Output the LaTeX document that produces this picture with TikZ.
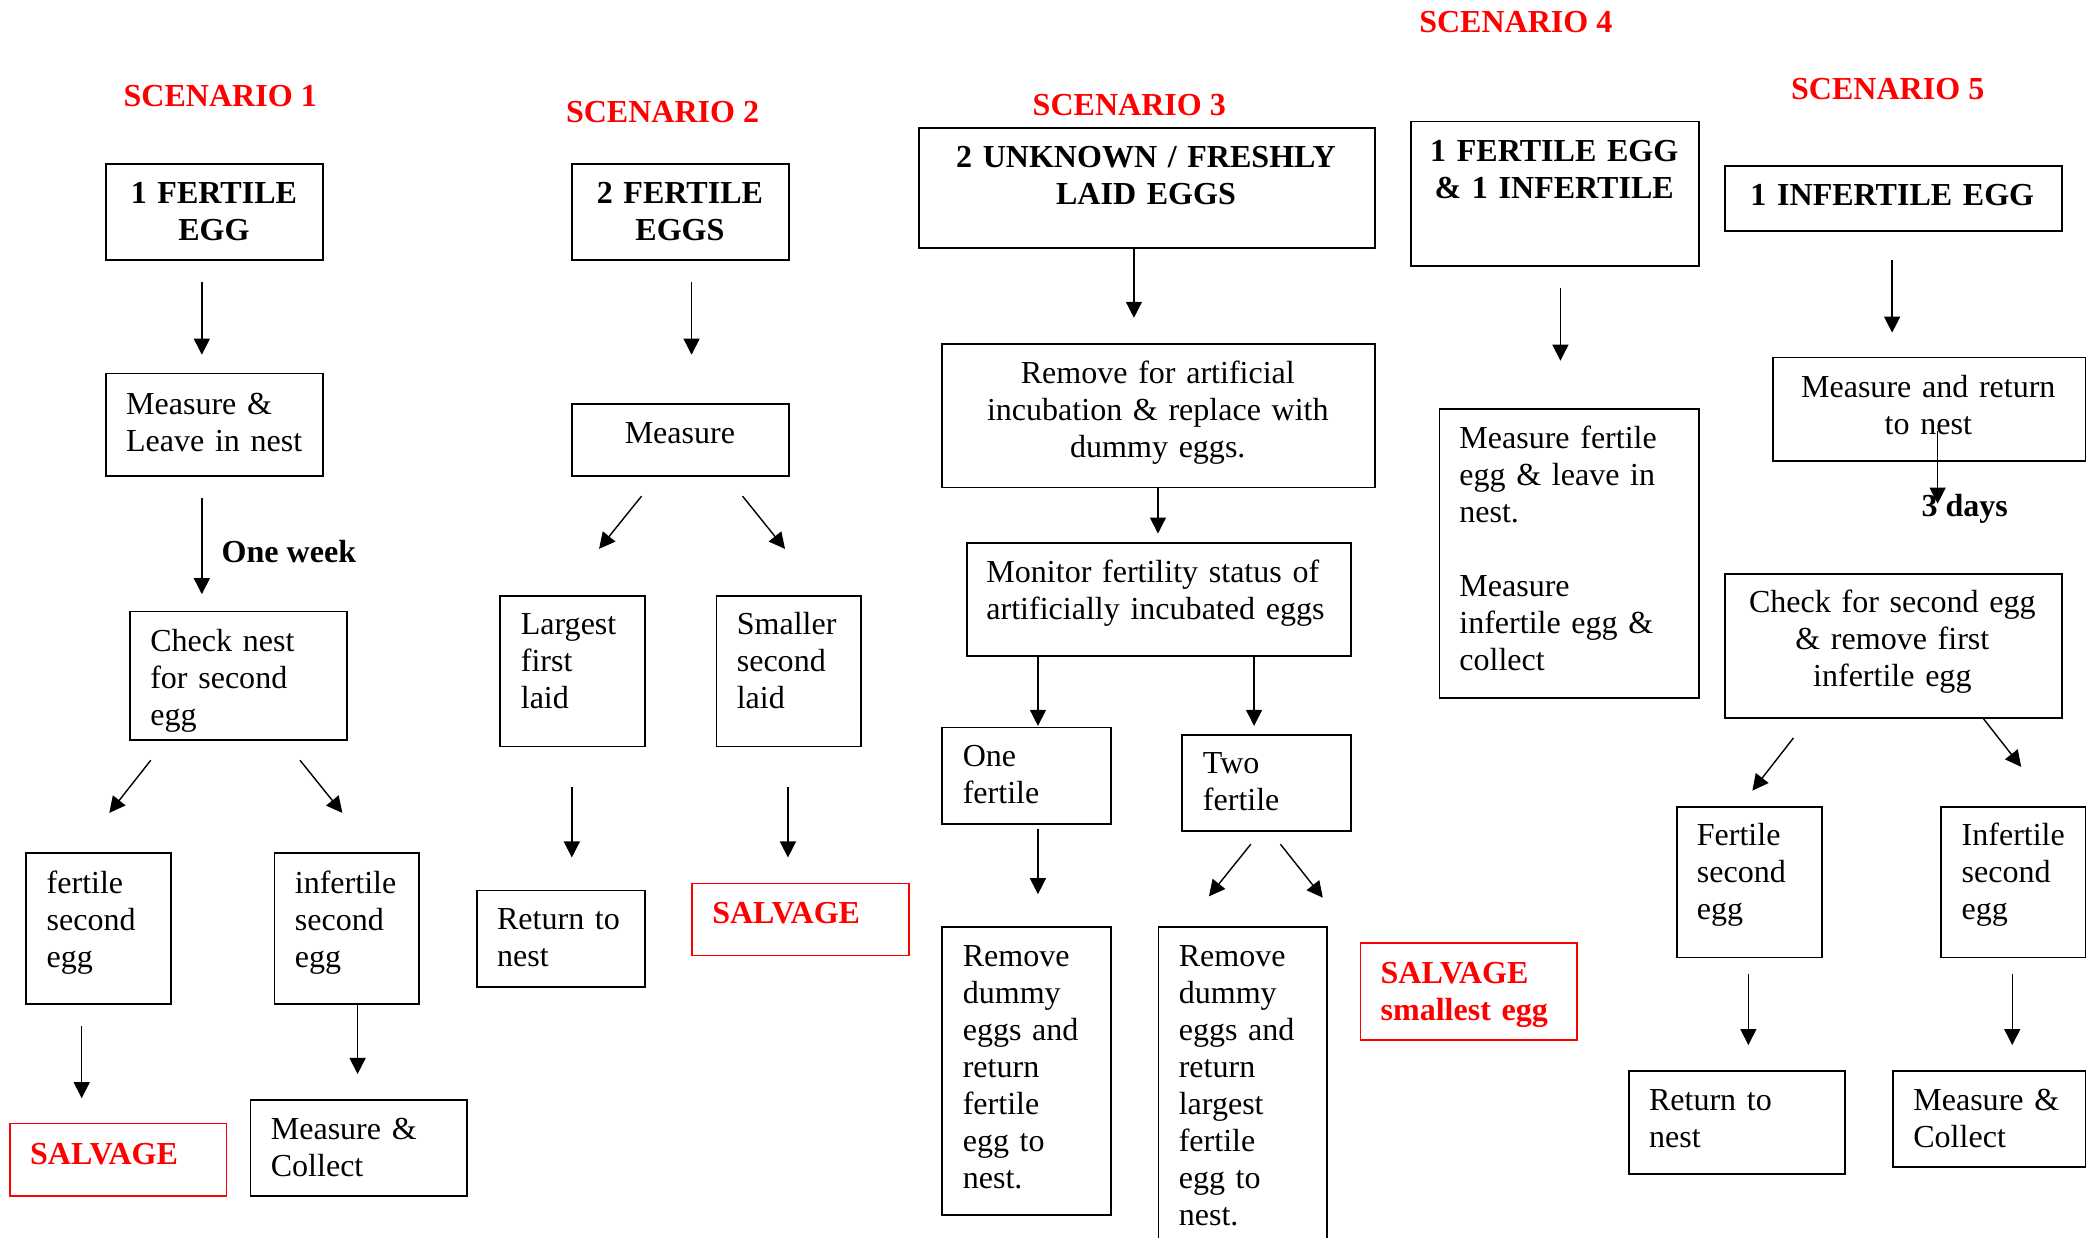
\documentclass[tikz,border=0pt]{standalone}
\usepackage{fontspec}
\setmainfont{Liberation Serif}
\usetikzlibrary{arrows.meta}
\newcommand\mkbox[6][box]{\node[#1,minimum width={#5-#3},minimum height={#6-#4}] (#2) at (#3,#4) {};}
\begin{document}
\begin{tikzpicture}[x=1pt,y=-1pt,
  box/.style={draw,line width=1.35pt,inner sep=0pt,anchor=north west},
  rbox/.style={draw=red,line width=1.2pt,inner sep=0pt,anchor=north west},
  txt/.style={inner sep=0pt,anchor=base west,align=left,text width=280pt,font=\fontsize{24}{27.7}\selectfont},
  ctxt/.style={inner sep=0pt,anchor=base,align=center,text width=400pt,font=\fontsize{24}{27.7}\selectfont},
  btxt/.style={ctxt,font=\fontsize{24}{27.7}\selectfont\bfseries},
  rtxt/.style={txt,text=red,font=\fontsize{24}{27.7}\selectfont\bfseries},
  rtitle/.style={inner sep=0pt,anchor=base,text=red,font=\fontsize{24}{27.7}\selectfont\bfseries},
  lbl/.style={inner sep=0pt,anchor=base west,font=\fontsize{24}{27.7}\selectfont\bfseries},
  arr/.style={line width=1.05pt,-{Triangle[length=12pt,width=12pt]}}]
\useasboundingbox (0,0) rectangle (1568,927);

% ---------------- Scenario 1
\node[rtitle] (sc1) at (165,80.1) {SCENARIO 1};
\mkbox{s1a}{79}{121.9}{241.5}{194.1}
\node[btxt] (s1at) at (160.25,152.6) {1 FERTILE\\EGG};
\mkbox{s1b}{79}{279.1}{241.5}{356.0}
\node[txt] (s1bt) at (94.3,310.2) {Measure \&\\Leave in nest};
\mkbox{s1c}{97}{457.5}{259.2}{553.5}
\node[txt] (s1ct) at (112.4,488.2) {Check nest\\for second\\egg};
\mkbox{s1d}{19.1}{638.4}{127.4}{751.4}
\node[txt] (s1dt) at (34.8,669.5) {fertile\\second\\egg};
\mkbox{s1e}{205}{638.4}{313.4}{751.4}
\node[txt] (s1et) at (220.7,669.5) {infertile\\second\\egg};
\mkbox[rbox]{s1f}{7}{841.1}{169.2}{895.3}
\node[rtxt] (s1ft) at (22.4,872.2) {SALVAGE};
\mkbox{s1g}{187}{823.4}{349.2}{895.3}
\node[txt] (s1gt) at (202.7,853.8) {Measure \&\\Collect};
\node[lbl] (wk) at (165.9,421.2) {One week};

\coordinate (a1s) at (151.2,211.2); \coordinate (a1e) at (151.2,265.7);
\coordinate (a2s) at (151.2,373.4); \coordinate (a2e) at (151.2,445.1);
\coordinate (a3s) at (113,569.5);   \coordinate (a3e) at (81.9,609);
\coordinate (a4s) at (224.7,569.5); \coordinate (a4e) at (256.5,609);
\coordinate (a5s) at (61.2,768.9);  \coordinate (a5e) at (61.2,822.7);
\coordinate (a6e) at (267.9,804.6);
\draw[arr] (a1s) -- (a1e);
\draw[arr] (a2s) -- (a2e);
\draw[arr] (a3s) -- (a3e);
\draw[arr] (a4s) -- (a4e);
\draw[arr] (a5s) -- (a5e);
\draw[arr] (s1e.south -| a6e) -- (a6e);

% ---------------- Scenario 2
\node[rtitle] (sc2) at (496.4,91.5) {SCENARIO 2};
\mkbox{s2a}{428.1}{121.9}{590.6}{194.1}
\node[btxt] (s2at) at (509.35,152.6) {2 FERTILE\\EGGS};
\mkbox{s2b}{428.1}{301.8}{590.6}{356.0}
\node[ctxt] (s2bt) at (509.35,332.5) {Measure};
\mkbox{s2c}{374.2}{445.8}{482.6}{558.5}
\node[txt] (s2ct) at (390,475.5) {Largest\\first\\laid};
\mkbox{s2d}{536.1}{445.8}{644.5}{558.5}
\node[txt] (s2dt) at (551.8,475.5) {Smaller\\second\\laid};
\mkbox{s2e}{356.5}{666.5}{482.6}{738.8}
\node[txt] (s2et) at (372.2,696.6) {Return to\\nest};
\mkbox[rbox]{s2f}{518}{661.2}{680.3}{715.3}
\node[rtxt] (s2ft) at (533.4,691.6) {SALVAGE};

\coordinate (b1s) at (518.1,211.2); \coordinate (b1e) at (518.1,265.7);
\coordinate (b2s) at (480.6,371.7); \coordinate (b2e) at (448.8,411.2);
\coordinate (b3s) at (556.3,371.7); \coordinate (b3e) at (588.1,411.2);
\coordinate (b4s) at (428.4,589.3); \coordinate (b4e) at (428.4,642.4);
\coordinate (b5s) at (590.3,589.3); \coordinate (b5e) at (590.3,642.4);
\draw[arr] (b1s) -- (b1e);
\draw[arr] (b2s) -- (b2e);
\draw[arr] (b3s) -- (b3e);
\draw[arr] (b4s) -- (b4e);
\draw[arr] (b5s) -- (b5e);

% ---------------- Scenario 3
\node[rtitle] (sc3) at (846,86.3) {SCENARIO 3};
\mkbox{s3a}{687.6}{95.3}{1029.4}{185.0}
\node[btxt] (s3at) at (858.5,125.4) {2 UNKNOWN / FRESHLY\\LAID EGGS};
\mkbox{s3b}{705.3}{256.9}{1029.4}{364.5}
\node[ctxt] (s3bt) at (867.4,287.0) {Remove for artificial\\incubation \& replace with\\dummy eggs.};
\mkbox{s3c}{723.7}{406.3}{1011.4}{490.9}
\node[txt] (s3ct) at (738.8,436.5) {Monitor fertility status of\\artificially incubated eggs};
\mkbox{s3d}{705.3}{544.4}{831.8}{616.7}
\node[txt] (s3dt) at (721.1,574.5) {One\\fertile};
\mkbox{s3e}{884.9}{549.8}{1011.4}{622.0}
\node[txt] (s3et) at (901,579.6) {Two\\fertile};
\mkbox{s3f}{705.3}{693.6}{831.8}{909.3}
\node[txt] (s3ft) at (721.1,724.0) {Remove\\dummy\\eggs and\\return\\fertile\\egg to\\nest.};
\mkbox{s3g}{867.2}{693.6}{993.3}{950}
\node[txt] (s3gt) at (882.9,724.0) {Remove\\dummy\\eggs and\\return\\largest\\fertile\\egg to\\nest.};
\mkbox[rbox]{s3h}{1018.7}{706.0}{1180.7}{778.6}
\node[rtxt] (s3ht) at (1034.1,736.7) {SALVAGE\\smallest egg};

\coordinate (c1e) at (849.5,238.1);
\coordinate (c2e) at (867.5,399.7);
\coordinate (c3e) at (777.6,543.8);
\coordinate (c4e) at (939.5,543.8);
\coordinate (c5s) at (777.6,621.4); \coordinate (c5e) at (777.6,669.9);
\coordinate (c6s) at (937.1,632.4); \coordinate (c6e) at (905.7,671.5);
\coordinate (c7s) at (959.2,632.4); \coordinate (c7e) at (991.0,672.5);
\draw[arr] (s3a.south -| c1e) -- (c1e);
\draw[arr] (s3b.south -| c2e) -- (c2e);
\draw[arr] (s3c.south -| c3e) -- (c3e);
\draw[arr] (s3c.south -| c4e) -- (c4e);
\draw[arr] (c5s) -- (c5e);
\draw[arr] (c6s) -- (c6e);
\draw[arr] (c7s) -- (c7e);

% ---------------- Scenario 4
\node[rtitle] (sc4) at (1135.6,24.1) {SCENARIO 4};
\mkbox{s4a}{1056.3}{90.3}{1272.4}{198.3}
\node[btxt] (s4at) at (1164.35,121.1) {1 FERTILE EGG\\\& 1 INFERTILE};
\mkbox{s4b}{1077.7}{306.0}{1272.4}{522.0}
\node[txt] (s4bt) at (1093.1,336.1) {Measure fertile\\egg \& leave in\\nest.\\[27.7pt]Measure\\infertile egg \&\\collect};
\coordinate (d1s) at (1169,215.7); \coordinate (d1e) at (1169,270.2);
\draw[arr] (d1s) -- (d1e);

% ---------------- Scenario 5
\node[rtitle] (sc5) at (1414.2,74.2) {SCENARIO 5};
\mkbox{s5a}{1291.4}{123.4}{1543.9}{172.2}
\node[btxt] (s5at) at (1417.65,153.8) {1 INFERTILE EGG};
\mkbox{s5b}{1327.6}{267.2}{1561.7}{344.5}
\node[ctxt] (s5bt) at (1444.6,297.7) {Measure and return\\to nest};
\mkbox{s5c}{1291.4}{429.1}{1543.9}{537.4}
\node[ctxt] (s5ct) at (1417.65,459.2) {Check for second egg\\\& remove first\\infertile egg};
\mkbox{s5d}{1255.6}{603.6}{1364.0}{716.7}
\node[txt] (s5dt) at (1271,633.5) {Fertile\\second\\egg};
\mkbox{s5e}{1453.6}{603.6}{1561.7}{716.7}
\node[txt] (s5et) at (1469.4,633.5) {Infertile\\second\\egg};
\mkbox{s5f}{1219.9}{801.6}{1381.7}{878.6}
\node[txt] (s5ft) at (1235.2,832.1) {Return to\\nest};
\mkbox{s5g}{1417.5}{801.6}{1561.7}{873.5}
\node[txt] (s5gt) at (1433.2,832.1) {Measure \&\\Collect};
\node[lbl] (dy) at (1439.3,387.3) {3 days};

\coordinate (e1s) at (1417.5,195.0); \coordinate (e1e) at (1417.5,249.2);
\coordinate (e2s) at (1451.6,322.7); \coordinate (e2e) at (1451.6,377.3);
\coordinate (e3s) at (1343.6,552.8); \coordinate (e3e) at (1312.8,592.3);
\coordinate (e4s) at (1485.1,537.4); \coordinate (e4e) at (1514.2,574.5);
\coordinate (e5s) at (1309.8,729.4); \coordinate (e5e) at (1309.8,782.9);
\coordinate (e6s) at (1507.5,729.4); \coordinate (e6e) at (1507.5,782.9);
\draw[arr] (e1s) -- (e1e);
\draw[arr] (e2s) -- (e2e);
\draw[arr] (e3s) -- (e3e);
\draw[arr] (e4s) -- (e4e);
\draw[arr] (e5s) -- (e5e);
\draw[arr] (e6s) -- (e6e);
\end{tikzpicture}
\end{document}
